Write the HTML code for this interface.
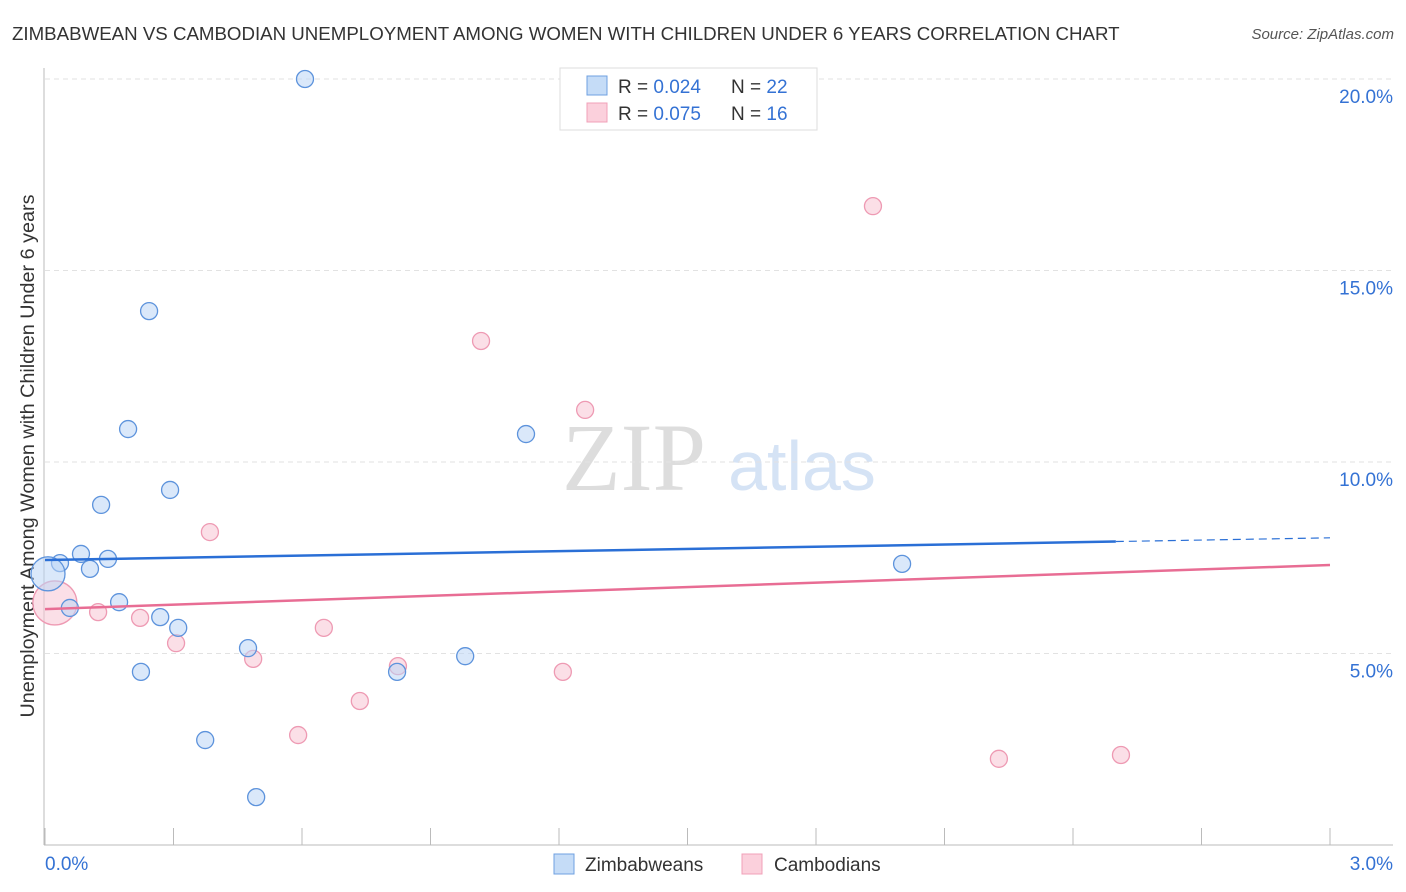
<!DOCTYPE html>
<html><head><meta charset="utf-8"><style>
body{margin:0;background:#fff;font-family:"Liberation Sans",sans-serif;}
svg{display:block}
</style></head><body>
<svg id="c" width="1406" height="892">
<text x="12" y="40" font-size="18.7" fill="#333">ZIMBABWEAN VS CAMBODIAN UNEMPLOYMENT AMONG WOMEN WITH CHILDREN UNDER 6 YEARS CORRELATION CHART</text>
<text x="1394" y="39" font-size="15" fill="#555" text-anchor="end" font-style="italic">Source: ZipAtlas.com</text>
<text x="634" y="490" font-size="96" fill="#ddd" font-family="Liberation Serif,serif" text-anchor="middle">ZIP</text>
<text x="802" y="490" font-size="70" fill="#d5e3f5" text-anchor="middle">atlas</text>
<text transform="translate(34,456) rotate(-90)" font-size="19.8" fill="#333" text-anchor="middle">Unemployment Among Women with Children Under 6 years</text>
<g id="grid"></g><g id="marks"></g>
<g>
<rect x="560" y="68" width="257" height="62" fill="#fff" stroke="#ddd"/>
<rect x="587" y="76" width="20" height="19" fill="#c5dcf7" stroke="#6fa0e0"/>
<rect x="587" y="103" width="20" height="19" fill="#fbd0dc" stroke="#f0a0b8"/>
<text x="618" y="93" font-size="19" fill="#333">R = <tspan fill="#3472d4">0.024</tspan></text>
<text x="731" y="93" font-size="19" fill="#333">N = <tspan fill="#3472d4">22</tspan></text>
<text x="618" y="120" font-size="19" fill="#333">R = <tspan fill="#3472d4">0.075</tspan></text>
<text x="731" y="120" font-size="19" fill="#333">N = <tspan fill="#3472d4">16</tspan></text>
</g>
<g>
<rect x="554" y="854" width="20" height="20" fill="#c5dcf7" stroke="#6fa0e0"/>
<text x="585" y="871" font-size="19" fill="#333">Zimbabweans</text>
<rect x="742" y="854" width="20" height="20" fill="#fbd0dc" stroke="#f0a0b8"/>
<text x="774" y="871" font-size="19" fill="#333">Cambodians</text>
</g>
</svg>
<script>
const yTicks=[5,10,15,20];
const xTickLabels=["0.0%","3.0%"];
const blueX=[0.035,0.007,0.084,0.105,0.147,0.058,0.173,0.269,0.311,0.474,0.224,0.374,0.493,0.131,0.194,0.243,0.292,0.607,0.822,0.981,1.123,2.001];
const blueY=[7.36,7.08,7.60,7.21,7.47,6.19,6.34,5.95,5.67,5.14,4.52,2.74,1.25,8.88,10.86,13.94,9.27,20.0,4.52,4.93,10.73,7.34];
const pinkX=[0.023,0.124,0.222,0.306,0.385,0.486,0.591,0.651,0.735,0.824,1.018,1.209,1.261,1.933,2.227,2.512];
const pinkY=[6.32,6.08,5.93,5.27,8.17,4.86,2.87,5.67,3.76,4.67,13.16,4.52,11.36,16.68,2.25,2.35];
const blueLine=[7.44,8.02];
const pinkLine=[6.16,7.31];
const X=v=>45+v*428.33, Y=v=>845-v*38.3;
const NS="http://www.w3.org/2000/svg";
function mk(p,t,a){const e=document.createElementNS(NS,t);for(const k in a)e.setAttribute(k,a[k]);p.appendChild(e);return e;}
const g=document.getElementById('grid'), m=document.getElementById('marks');
yTicks.forEach(t=>{
 const l=mk(g,'line',{x1:45,x2:1393,y1:Y(t),y2:Y(t),stroke:'#e2e2e2','stroke-dasharray':'5,4'});
 
 
 const tx=mk(g,'text',{x:1393,y:Y(t)+24,'font-size':19,fill:'#3472d4','text-anchor':'end'});
 tx.textContent=t.toFixed(1)+'%';
 
 
});
mk(g,'line',{x1:44,x2:44,y1:68,y2:845,stroke:'#bbb'});
mk(g,'line',{x1:44,x2:1393,y1:845,y2:845,stroke:'#bbb'});
for(let i=0;i<=10;i++){const t=mk(g,'line',{x1:X(i*0.3),x2:X(i*0.3),y1:828,y2:845,stroke:'#bbb'});
 
 }
[[0,45,'start'],[3,1393,'end']].forEach((d,i)=>{const t=mk(g,'text',{x:d[1],y:870,'font-size':19,fill:'#3472d4','text-anchor':d[2]});t.textContent=xTickLabels[i];
 
 });
function pts(xs,ys,fill,stroke,name,bigIdx,bigR){xs.forEach((x,i)=>{const c=mk(m,'circle',{cx:X(x),cy:Y(ys[i]),r:i===bigIdx?bigR:8.5,fill:fill,'fill-opacity':0.55,stroke:stroke,'stroke-width':1.3});
 
 });}
pts(pinkX,pinkY,'#f8c4d3','#ee9ab3','cambodian-point',0,22);
pts(blueX,blueY,'#bcd6f5','#5d93dc','zimbabwean-point',1,17);
const b1=mk(m,'line',{x1:X(0),y1:Y(blueLine[0]),x2:X(2.5),y2:Y(blueLine[0]+(blueLine[1]-blueLine[0])*2.5/3),stroke:'#2a6fd6','stroke-width':2.5});


const b2=mk(m,'line',{x1:X(2.5),y1:Y(blueLine[0]+(blueLine[1]-blueLine[0])*2.5/3),x2:X(3),y2:Y(blueLine[1]),stroke:'#2a6fd6','stroke-width':1.2,'stroke-dasharray':'8,5'});


const p1=mk(m,'line',{x1:X(0),y1:Y(pinkLine[0]),x2:X(3),y2:Y(pinkLine[1]),stroke:'#e86d94','stroke-width':2.5});


</script>
</body></html>
